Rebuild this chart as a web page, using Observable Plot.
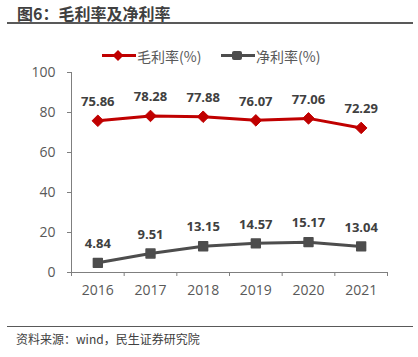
<!DOCTYPE html>
<html>
<head>
<meta charset="utf-8">
<script src="https://cdn.jsdelivr.net/npm/d3@7"></script>
<script src="https://cdn.jsdelivr.net/npm/@observablehq/plot@0.6"></script>
<style>
  body { margin: 0; background: #fff; }
  #wrap { position: relative; width: 418px; height: 357px; overflow: hidden; font-family: "Noto Sans CJK SC", "Open Sans", sans-serif; }
  #title { position: absolute; left: 17px; top: 1px; font-size: 16px; font-weight: bold; color: #404040; white-space: nowrap; }
  #topline { position: absolute; left: 7px; top: 22px; width: 406px; border-top: 2px solid #595959; }
  #legend { position: absolute; left: 0; top: 45px; width: 418px; height: 22px; }
  #chart { position: absolute; left: 0; top: 40px; }
  #botline { position: absolute; left: 7px; top: 326px; width: 406px; border-top: 1.5px solid #595959; }
  #caption { position: absolute; left: 16px; top: 330px; font-size: 12px; color: #404040; white-space: nowrap; }
  .leg { position: absolute; top: 0; display: flex; align-items: center; font-size: 14px; color: #595959; }
</style>
</head>
<body>
<div id="wrap">
  <div id="title">图6：毛利率及净利率</div>
  <div id="topline"></div>
  <div id="chart"></div>
  <div id="legend"></div>
  <div id="botline"></div>
  <div id="caption">资料来源：wind，民生证券研究院</div>
</div>
<script>
const years = [2016, 2017, 2018, 2019, 2020, 2021];
const grossMargin = [75.86, 78.28, 77.88, 76.07, 77.06, 72.29];
const netMargin = [4.84, 9.51, 13.15, 14.57, 15.17, 13.04];
const yTicks = [0, 20, 40, 60, 80, 100];
const seriesNames = ["毛利率(%)", "净利率(%)"];
const seriesColors = ["#C00000", "#4D4D4D"];

const gross = years.map((y, i) => ({year: y, value: grossMargin[i]}));
const net = years.map((y, i) => ({year: y, value: netMargin[i]}));
const boundaries = [years[0] - 0.5, ...years.map(y => y + 0.5)];

const labelFont = "'Open Sans', 'Noto Sans CJK SC', sans-serif";

const chart = Plot.plot({
  width: 418,
  height: 270,
  marginTop: 32,
  marginBottom: 38,
  marginLeft: 71,
  marginRight: 31,
  style: {fontFamily: labelFont, background: "transparent"},
  x: {type: "linear", domain: [boundaries[0], boundaries[boundaries.length - 1]]},
  y: {domain: [0, 100]},
  marks: [
    Plot.axisY({ticks: yTicks, tickSize: 4, tickPadding: 12, fontSize: 14, stroke: "#7f7f7f", fill: "#595959", label: null}),
    Plot.axisX({ticks: boundaries, tickSize: 4, tickFormat: () => "", stroke: "#7f7f7f", label: null}),
    Plot.axisX({ticks: years, tickSize: 0, tickPadding: 13, tickFormat: "d", fontSize: 14, fill: "#595959", label: null}),
    Plot.ruleX([boundaries[0]], {y1: 0, y2: 100, stroke: "#7f7f7f"}),
    Plot.ruleY([0], {stroke: "#7f7f7f"}),
    Plot.line(gross, {x: "year", y: "value", stroke: seriesColors[0], strokeWidth: 3}),
    Plot.dot(gross, {x: "year", y: "value", symbol: "diamond2", r: 5.2, fill: seriesColors[0], stroke: seriesColors[0], strokeWidth: 1}),
    Plot.line(net, {x: "year", y: "value", stroke: seriesColors[1], strokeWidth: 3}),
    Plot.dot(net, {x: "year", y: "value", symbol: "square", r: 5, fill: seriesColors[1], stroke: seriesColors[1], strokeWidth: 1.5, strokeLinejoin: "round"}),
    Plot.text(gross, {x: "year", y: "value", text: d => d.value.toFixed(2), dy: -19, fontSize: 13, fontWeight: "bold", fill: "#404040"}),
    Plot.text(net, {x: "year", y: "value", text: d => d.value.toFixed(2), dy: -19, fontSize: 13, fontWeight: "bold", fill: "#404040"})
  ]
});
document.getElementById("chart").appendChild(chart);

// Legend
const legend = document.getElementById("legend");
const legPos = [102, 221];
const symbols = ["diamond", "square"];
seriesNames.forEach((name, i) => {
  const item = document.createElement("div");
  item.className = "leg";
  item.style.left = legPos[i] + "px";
  const sym = symbols[i] === "diamond"
    ? `<path d="M16,5 L21.5,10.5 L16,16 L10.5,10.5 Z" fill="${seriesColors[i]}"/>`
    : `<rect x="11" y="6" width="10" height="9" rx="2" fill="${seriesColors[i]}"/>`;
  item.innerHTML = `<svg width="34" height="21" style="display:block"><line x1="0" x2="34" y1="10.5" y2="10.5" stroke="${seriesColors[i]}" stroke-width="3"/>${sym}</svg><span style="margin-left:1px">${name}</span>`;
  legend.appendChild(item);
});
</script>
</body>
</html>
